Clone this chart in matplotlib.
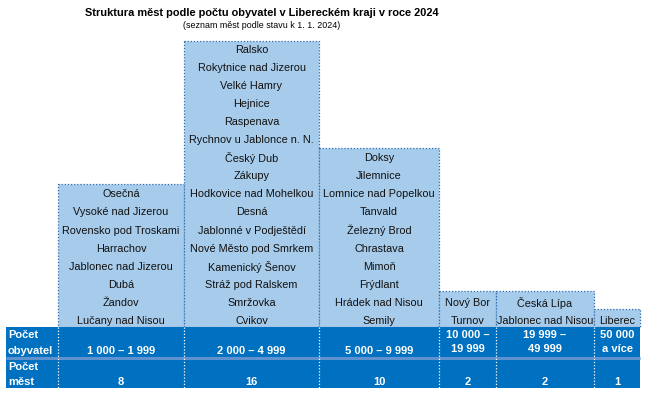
import matplotlib
matplotlib.use("Agg")
import matplotlib.pyplot as plt
from matplotlib.patches import Rectangle

# ---------------- data ----------------
categories = ["1 000 – 1 999", "2 000 – 4 999", "5 000 – 9 999",
              "10 000 –\n19 999", "19 999 –\n49 999", "50 000\na více"]
counts = [8, 16, 10, 2, 2, 1]
towns = [
    ["Osečná", "Vysoké nad Jizerou", "Rovensko pod Troskami", "Harrachov",
     "Jablonec nad Jizerou", "Dubá", "Žandov", "Lučany nad Nisou"],
    ["Ralsko", "Rokytnice nad Jizerou", "Velké Hamry", "Hejnice", "Raspenava",
     "Rychnov u Jablonce n. N.", "Český Dub", "Zákupy", "Hodkovice nad Mohelkou",
     "Desná", "Jablonné v Podještědí", "Nové Město pod Smrkem", "Kamenický Šenov",
     "Stráž pod Ralskem", "Smržovka", "Cvikov"],
    ["Doksy", "Jilemnice", "Lomnice nad Popelkou", "Tanvald", "Železný Brod",
     "Chrastava", "Mimoň", "Frýdlant", "Hrádek nad Nisou", "Semily"],
    ["Nový Bor", "Turnov"],
    ["Česká Lípa", "Jablonec nad Nisou"],
    ["Liberec"],
]
row_labels = [["Počet", "obyvatel"], ["Počet", "měst"]]
title = "Struktura měst podle počtu obyvatel v Libereckém kraji v roce 2024"
subtitle = "(seznam měst podle stavu k 1. 1. 2024)"

# ---------------- layout ----------------
col_edges = [58, 184, 319, 439, 496, 594, 640]
band_left, band_right = 6, 640
band_top, band_mid, band_bot = 327.0, 357.7, 388.3
row_h = 17.9
text_step = 18.05

DARK = "#0070C0"
LIGHT = "#A7CBEA"
EDGE = "#2E6DB4"

fig = plt.figure(figsize=(6.45, 3.96), dpi=100)
ax = fig.add_axes([0, 0, 1, 1])
ax.set_xlim(0, 645)
ax.set_ylim(396, 0)
ax.axis("off")

reg = dict(family=["Liberation Sans", "DejaVu Sans"])

# title
ax.text(262, 13, title, ha="center", va="center", fontsize=7.9,
        fontweight="bold", color="black", **reg)
ax.text(262, 25.5, subtitle, ha="center", va="center", fontsize=6.4,
        color="black", **reg)

lefts = col_edges[:-1]
widths = [b - a for a, b in zip(col_edges[:-1], col_edges[1:])]
heights = [n * row_h for n in counts]

ax.bar(lefts, heights, width=widths, bottom=[band_top - h for h in heights],
       align="edge", color=LIGHT, edgecolor=EDGE, linewidth=0.9,
       linestyle=(0, (1, 1.5)), zorder=2)

# town names
for left, w, names in zip(lefts, widths, towns):
    n = len(names)
    for i, name in enumerate(names):
        y = band_top - (n - i - 0.5) * text_step + 2.8
        ax.text(left + w / 2, y, name, ha="center", va="center",
                fontsize=7.8, color="#111111", zorder=4, **reg)

# band
ax.add_patch(Rectangle((band_left, band_top), band_right - band_left,
                       band_bot - band_top, facecolor=DARK, edgecolor="none",
                       zorder=3))
ax.plot([band_left, band_right], [band_mid, band_mid], color="#5E93CF",
        lw=2.2, zorder=4, solid_capstyle="butt")
for x in col_edges[:-1]:
    ax.plot([x, x], [band_top, band_bot], color="white", lw=0.9,
            linestyle=(0, (1, 1.5)), zorder=5)

bold_w = dict(fontsize=8, fontweight="bold", color="white", zorder=6, **reg)
# row labels
ax.text(8, 335.5, row_labels[0][0], ha="left", va="center", **bold_w)
ax.text(8, 350.5, row_labels[0][1], ha="left", va="center", **bold_w)
ax.text(8, 366.5, row_labels[1][0], ha="left", va="center", **bold_w)
ax.text(8, 382, row_labels[1][1], ha="left", va="center", **bold_w)

for left, w, cat, n in zip(lefts, widths, categories, counts):
    cx = left + w / 2
    parts = cat.split("\n")
    if len(parts) == 1:
        ax.text(cx, 350.5, parts[0], ha="center", va="center", **bold_w)
    else:
        ax.text(cx, 334.5, parts[0], ha="center", va="center", **bold_w)
        ax.text(cx, 349.5, parts[1], ha="center", va="center", **bold_w)
    ax.text(cx, 382, str(n), ha="center", va="center", **bold_w)

fig.savefig("out.png", dpi=100)
